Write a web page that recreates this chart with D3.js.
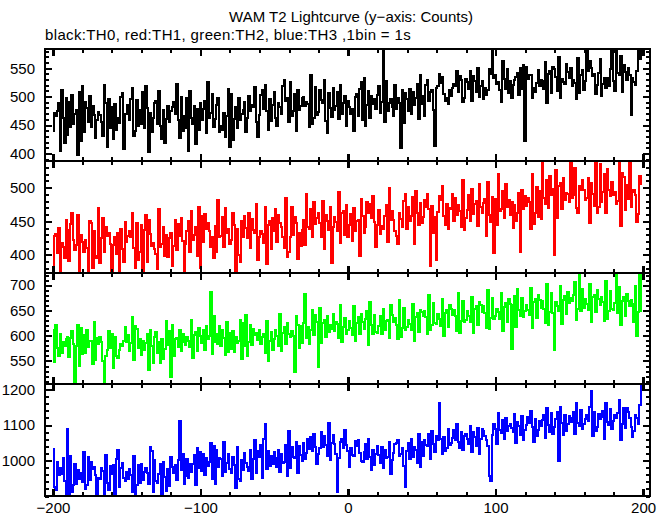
<!DOCTYPE html>
<html><head><meta charset="utf-8">
<script src="https://cdn.jsdelivr.net/npm/d3@7"></script>
<style>
body{margin:0;background:#fff}
svg{display:block}
text{font-family:"Liberation Sans",Arial,Helvetica,sans-serif;fill:#000}
</style>
</head><body>
<svg id="chart" width="669" height="515"></svg>
<script>
const title = "WAM T2 Lightcurve (y\u2212axis: Counts)";
const subtitle = "black:TH0, red:TH1, green:TH2, blue:TH3 ,1bin = 1s";
const timeStart = -200;   // first 1 s bin
const seriesNames = ["TH0", "TH1", "TH2", "TH3"];
const seriesColors = ["#000000", "#ff0000", "#00ff00", "#0000ff"];

const th0 = [
440,471,466,475,489,405,512,462,418,497, 433,490,447,503,451,470,476,398,508,421,
518,438,491,480,455,502,446,484,467,427, 459,473,468,456,430,521,489,412,495,444,
481,425,487,442,462,453,499,507,408,470, 470,486,458,496,515,431,440,494,449,477,
452,509,445,519,480,402,472,437,463,488, 493,451,510,448,426,476,419,461,484,455,
474,482,491,470,523,458,427,500,439,466, 445,497,404,510,463,452,484,416,478,441,
488,459,479,492,436,525,463,471,504,447, 460,485,497,437,448,441,472,429,466,513,
411,505,423,461,482,444,498,458,469,476, 490,438,462,502,474,486,481,517,455,429,
468,503,512,478,521,474,442,495,457,486, 509,462,448,488,481,470,519,530,493,497,
456,526,466,475,505,439,512,477,484,498, 499,483,491,487,446,538,452,462,517,468,
473,511,494,489,529,457,436,506,480,465, 515,477,483,508,460,521,470,488,502,449,
492,481,470,478,439,499,504,466,513,526, 458,532,448,485,510,463,501,487,496,479,
503,519,471,490,584,456,527,474,488,495, 481,466,520,478,497,489,410,512,453,506,
495,474,514,470,508,486,497,523,461,539, 487,501,466,521,529,493,508,512,476,413,
516,519,540,524,534,505,493,498,487,511, 502,515,523,518,545,508,536,529,490,497,
531,526,514,546,492,537,528,508,550,499, 519,527,495,515,503,511,548,540,584,532,
538,523,526,512,490,562,531,514,549,507, 527,498,520,529,535,541,503,551,513,556,
421,552,531,539,538,497,516,509,524,547, 518,530,527,514,561,489,540,545,506,553,
549,535,510,570,498,531,526,522,558,544, 533,551,518,529,524,496,568,507,539,547,
512,528,584,546,563,550,537,540,505,521, 541,566,501,523,533,515,532,519,548,584,
527,510,584,542,538,571,508,555,544,529, 551,539,468,533,526,520,545,584,566,584
];

const th1 = [
385,428,431,403,440,374,418,412,396,452, 437,391,446,462,422,408,415,459,374,430,
419,404,423,410,374,451,447,381,435,398, 396,470,388,425,455,405,441,428,432,417,
374,415,426,401,433,374,438,409,389,449, 420,428,436,427,462,411,381,447,393,405,
445,374,437,460,389,452,431,413,418,409, 402,379,468,412,416,441,399,430,397,425,
433,384,413,452,407,446,428,455,421,374, 417,435,450,404,466,423,429,441,398,472,
380,458,419,461,439,447,436,412,426,395, 443,405,481,427,428,456,412,470,432,439,
416,423,462,445,374,438,400,390,451,427, 458,440,425,463,411,453,437,432,476,392,
427,435,431,418,472,386,444,450,409,455, 436,469,420,459,448,441,426,411,484,397,
405,426,471,429,457,448,394,433,413,437, 452,415,491,441,439,468,427,478,446,455,
463,448,426,480,409,459,451,437,472,388, 441,457,449,436,493,418,462,466,430,475,
427,444,461,421,470,435,450,452,398,483, 458,433,441,479,462,476,455,487,449,412,
445,467,431,443,438,458,474,420,499,452, 466,452,435,428,417,463,454,441,480,490,
439,471,450,458,486,416,495,462,445,477, 447,456,482,471,490,468,383,473,432,457,
392,464,487,481,503,458,445,476,439,470, 468,491,450,485,459,474,466,442,512,437,
455,467,489,450,498,461,476,480,443,505, 471,462,477,483,428,508,459,449,486,403,
483,444,520,466,469,495,455,506,472,481, 460,478,440,474,451,463,492,405,497,469,
487,473,484,479,438,520,446,462,501,457, 495,453,537,484,476,512,470,518,489,498,
400,526,455,503,507,468,515,481,492,490, 478,541,485,489,529,470,463,502,496,511,
496,481,484,515,448,507,490,473,541,462, 471,535,479,493,520,462,528,496,488,509,
489,494,476,480,541,443,522,516,467,504, 483,541,472,494,497,489,449,461,518,505
];

const th2 = [
612,548,621,575,560,603,566,587,579,594, 598,557,596,609,584,508,580,622,540,615,
563,601,566,612,578,590,589,545,627,552, 596,583,598,588,549,508,560,571,610,575,
604,536,597,559,555,572,583,580,590,618, 588,602,569,586,637,551,620,614,575,593,
561,590,572,585,604,533,611,579,547,598, 607,566,588,546,593,554,574,629,581,610,
518,621,559,594,596,578,612,570,603,587, 582,597,589,577,631,556,602,608,570,615,
600,585,612,571,619,594,599,686,563,638, 588,604,583,620,579,611,596,562,627,567,
605,574,609,568,598,586,590,631,553,625, 579,640,560,587,622,581,614,601,606,592,
612,584,597,603,566,630,549,589,608,571, 594,611,600,580,642,570,605,618,583,626,
603,597,610,600,528,638,622,575,619,586, 625,683,595,617,583,612,651,601,640,628,
538,654,585,626,632,598,639,607,621,613, 642,609,628,624,596,660,587,618,635,603,
611,629,616,601,658,590,625,637,604,643, 627,614,633,649,582,666,622,603,641,608,
605,620,638,604,652,612,629,631,596,661, 640,627,636,622,593,670,598,615,654,611,
618,631,624,612,663,589,637,645,607,650, 646,638,649,637,604,681,611,622,665,626,
624,642,633,620,673,599,645,651,617,660, 653,640,650,638,610,684,606,629,668,627,
631,649,639,627,677,605,652,658,622,666, 660,647,658,645,615,690,614,636,674,633,
639,653,646,633,684,610,657,664,628,672, 662,574,661,679,618,693,650,638,675,637,
648,660,651,641,694,616,666,672,635,680, 670,655,668,652,626,702,621,646,684,644,
572,667,659,648,698,623,671,678,642,686, 664,674,668,680,706,631,652,725,649,693,
655,672,662,650,703,628,676,681,646,690, 673,661,676,667,630,708,634,649,689,652,
650,665,725,644,696,622,669,676,639,683, 668,658,670,662,627,699,600,646,725,648
];

const th3 = [
1032,925,917,995,958,980,962,1006,941,903, 1088,905,1013,911,930,989,934,972,948,966,
940,1024,920,931,1009,945,996,977,983,958, 903,952,947,979,971,900,1016,936,918,985,
962,988,904,1005,1031,926,978,994,950,943, 968,949,975,958,912,1012,901,931,986,937,
991,944,969,980,966,933,1038,1027,910,1002, 942,938,961,990,900,995,954,915,977,929,
1011,981,964,988,946,1002,1112,973,1019,935, 957,1004,952,989,969,991,1015,930,1036,978,
1023,971,1019,960,1006,985,997,1048,948,1041, 934,1029,982,1008,1003,955,1052,968,992,1017,
975,964,1010,986,922,1038,949,941,1001,973, 1020,994,983,970,1031,947,1004,1057,966,1026,
1009,1043,951,1061,1102,976,1028,985,1012,990, 1024,1007,982,1030,968,1019,993,996,1045,955,
1083,979,1037,1011,1006,1052,966,1041,1015,998, 1049,1004,1020,1060,1032,1066,1027,1075,1038,991,
1018,1035,1081,1039,1069,1044,1013,1107,1002,1050, 1071,1047,1019,910,1008,1052,1061,1036,1085,1043,
1027,981,1035,1016,1013,1054,1042,1059,1020,998, 995,1024,1046,1003,1062,1009,972,1031,987,1018,
1040,1016,994,1037,978,1030,1008,1011,1053,962, 1002,1021,1047,1050,1058,1012,1019,1034,985,924,
1026,1049,1004,1062,1011,1038,1030,993,1075,981, 1053,1012,1059,1043,1040,1076,1004,1082,1047,1025,
1068,1057,1163,1061,1019,1066,1027,1035,1090,1044, 1049,1063,1087,1058,1102,1052,1036,1081,1030,1070,
1075,1060,1047,1098,1024,1079,1066,1041,1093,1018, 1062,1089,1083,1068,1057,1040,957,943,1071,1104,
1090,1046,1135,1087,1077,1113,1062,1121,1084,1098, 1104,1092,1081,1130,1048,1109,1096,1073,1126,1057,
1085,1100,1123,1106,1141,1094,1052,1118,1069,1087, 1112,1097,1115,1129,1063,1148,1101,1081,1134,1076,
1094,1118,1136,999,1150,1107,1071,1127,1083,1102, 1125,1110,1119,1137,1074,1161,1105,1098,1142,1088,
1103,1116,1128,1112,1152,1196,1069,1138,1084,1095, 1131,1117,1124,1140,1060,1163,1108,1099,1145,1090,
1112,1128,1120,1135,1170,1058,1104,1147,1093,1149, 1138,1121,1095,1066,1082,1127,1119,1104,1156,1215
];

const seriesValues = [th0, th1, th2, th3];
const yDomains = [[387, 584], [374, 540], [504, 725], [900, 1215]];
const yLabelTicks = [[400, 450, 500, 550], [400, 450, 500], [550, 600, 650, 700], [1000, 1100, 1200]];
const yMinorSteps = [10, 10, 10, 20];
const xDomain = [-205.4, 204.7];
const xLabelTicks = [-200, -100, 0, 100, 200];
const xMinorStep = 20;

const svg = d3.select("#chart");
const plotL = 45, plotR = 650, plotT = 49, plotB = 496;
const panelH = (plotB - plotT) / 4;

const x = d3.scaleLinear().domain(xDomain).range([plotL, plotR]);
const xMinor = d3.range(-200, 201, xMinorStep).filter(v => !xLabelTicks.includes(v));
const fmt = v => v < 0 ? "\u2212" + Math.abs(v) : String(v);

svg.append("text").attr("x", 351).attr("y", 22).attr("text-anchor", "middle")
  .style("font-size", "15px").text(title);
svg.append("text").attr("x", 45).attr("y", 40)
  .style("font-size", "15px").style("letter-spacing", "0.36px").text(subtitle);

function styleAxis(g, w) {
  g.select(".domain").remove();
  g.selectAll(".tick line").attr("stroke", "#000").attr("stroke-width", w).attr("shape-rendering", "crispEdges");
  g.selectAll(".tick text").style("font-size", "15px").style("font-family", '"Liberation Sans",Arial,sans-serif').attr("fill", "#000");
}

seriesValues.forEach((vals, i) => {
  const y0 = plotT + i * panelH, y1 = y0 + panelH;
  const y = d3.scaleLinear().domain(yDomains[i]).range([y1, y0]);
  const g = svg.append("g");

  const clipId = "clip" + i;
  svg.append("clipPath").attr("id", clipId).append("rect")
    .attr("x", plotL).attr("y", y0).attr("width", plotR - plotL).attr("height", panelH);

  const data = vals.map((v, k) => ({t: timeStart + k, v}));
  const line = d3.line().x(d => x(d.t)).y(d => y(d.v)).curve(d3.curveStep);
  g.append("path").datum(data).attr("clip-path", `url(#${clipId})`)
    .attr("fill", "none").attr("stroke", seriesColors[i]).attr("stroke-width", 2)
    .attr("shape-rendering", "crispEdges")
    .attr("d", line);

  const [d0, d1] = yDomains[i];
  const yMinor = d3.range(Math.ceil(d0 / yMinorSteps[i]) * yMinorSteps[i], d1 + 0.001, yMinorSteps[i])
    .filter(v => !yLabelTicks[i].includes(v));

  g.append("g").attr("transform", `translate(${plotL},0)`)
    .call(d3.axisLeft(y).tickValues(yMinor).tickSize(-4).tickFormat(""))
    .call(a => styleAxis(a, 2));
  g.append("g").attr("transform", `translate(${plotL},0)`)
    .call(d3.axisLeft(y).tickValues(yLabelTicks[i]).tickSize(-7).tickPadding(10).tickFormat(d3.format("d")))
    .call(a => styleAxis(a, 2));
  g.append("g").attr("transform", `translate(${plotR},0)`)
    .call(d3.axisRight(y).tickValues(yMinor).tickSize(-4).tickFormat(""))
    .call(a => styleAxis(a, 2));
  g.append("g").attr("transform", `translate(${plotR},0)`)
    .call(d3.axisRight(y).tickValues(yLabelTicks[i]).tickSize(-7).tickFormat(""))
    .call(a => styleAxis(a, 2));
  g.append("g").attr("transform", `translate(0,${y0})`)
    .call(d3.axisTop(x).tickValues(xMinor).tickSize(-4).tickFormat(""))
    .call(a => styleAxis(a, 2));
  g.append("g").attr("transform", `translate(0,${y0})`)
    .call(d3.axisTop(x).tickValues(xLabelTicks).tickSize(-7).tickFormat(""))
    .call(a => styleAxis(a, 2.5));
  g.append("g").attr("transform", `translate(0,${y1})`)
    .call(d3.axisBottom(x).tickValues(xMinor).tickSize(-4).tickFormat(""))
    .call(a => styleAxis(a, 2));
  g.append("g").attr("transform", `translate(0,${y1})`)
    .call(d3.axisBottom(x).tickValues(xLabelTicks).tickSize(-7).tickPadding(6)
      .tickFormat(i === 3 ? fmt : ""))
    .call(a => styleAxis(a, 2.5));

  g.append("rect").attr("x", plotL).attr("y", y0).attr("width", plotR - plotL).attr("height", panelH)
    .attr("fill", "none").attr("stroke", "#000").attr("stroke-width", 2).attr("shape-rendering", "crispEdges");
});
</script>
</body></html>
